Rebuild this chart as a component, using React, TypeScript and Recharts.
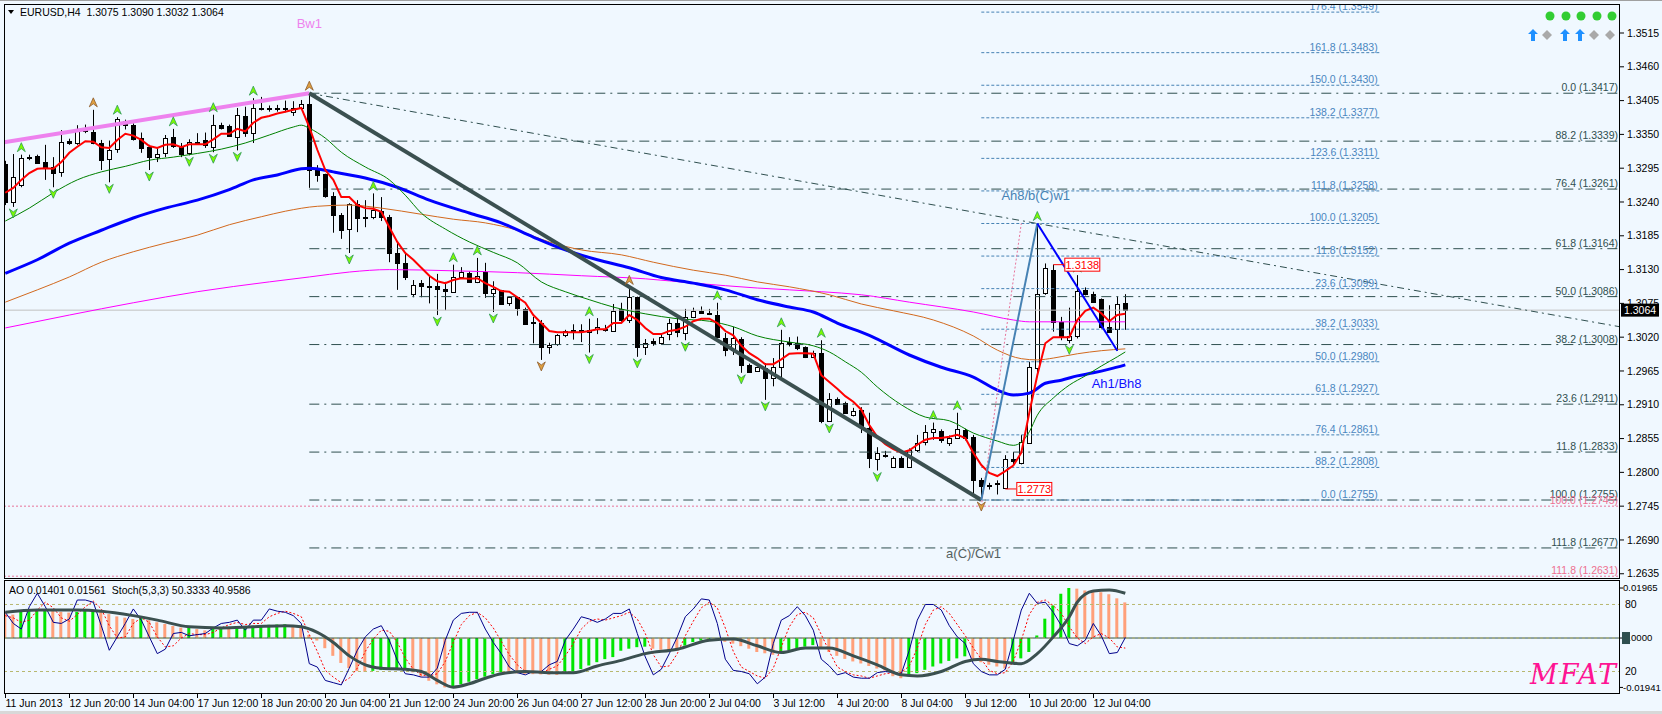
import React from 'react';
import { ComposedChart, Bar, Line, Scatter, XAxis, YAxis, ReferenceLine, Cell } from 'recharts';

// ---------- price bars (H4, 11 Jun 2013 12:00 .. 12 Jul 2013 20:00) ----------
const BAR_OPEN = [
  1.3302, 1.3240, 1.3268, 1.3312, 1.3315, 1.3305, 1.3297, 1.3289, 1.3340, 1.3337,
  1.3355, 1.3354, 1.3336, 1.3309, 1.3326, 1.3372, 1.3365, 1.3344, 1.3329, 1.3313,
  1.3320, 1.3346, 1.3331, 1.3320, 1.3337, 1.3341, 1.3329, 1.3366, 1.3364, 1.3346,
  1.3380, 1.3352, 1.3392, 1.3393, 1.3392, 1.3393, 1.3387, 1.3393, 1.3400, 1.3292,
  1.3285, 1.3250, 1.3219, 1.3196, 1.3237, 1.3215, 1.3216, 1.3225, 1.3216, 1.3157,
  1.3140, 1.3090, 1.3108, 1.3103, 1.3104, 1.3098, 1.3094, 1.3118, 1.3125, 1.3110,
  1.3126, 1.3091, 1.3097, 1.3075, 1.3085, 1.3066, 1.3044, 1.3043, 1.3004, 1.3009,
  1.3023, 1.3030, 1.3031, 1.3028, 1.3032, 1.3034, 1.3030, 1.3066, 1.3048, 1.3086,
  1.3004, 1.3014, 1.3011, 1.3025, 1.3043, 1.3027, 1.3053, 1.3063, 1.3060, 1.3056,
  1.3019, 1.3000, 1.3017, 1.2975, 1.2965, 1.2970, 1.2954, 1.2972, 1.3012, 1.3010,
  1.3004, 1.2988, 1.2995, 1.2885, 1.2919, 1.2913, 1.2894, 1.2901, 1.2872, 1.2822,
  1.2829, 1.2809, 1.2824, 1.2809, 1.2837, 1.2849, 1.2866, 1.2867, 1.2848, 1.2857,
  1.2869, 1.2858, 1.2788, 1.2779, 1.2781, 1.2774, 1.2822, 1.2815, 1.2849, 1.2970,
  1.3092, 1.3130, 1.3045, 1.3015, 1.3021, 1.3097, 1.3091, 1.3082, 1.3037, 1.3034,
  1.3075,
];
const BAR_HIGH = [
  1.3307, 1.3318, 1.3317, 1.3317, 1.3317, 1.3333, 1.3313, 1.3357, 1.3343, 1.3365,
  1.3366, 1.3390, 1.3341, 1.3340, 1.3378, 1.3374, 1.3368, 1.3353, 1.3333, 1.3329,
  1.3349, 1.3359, 1.3336, 1.3342, 1.3352, 1.3353, 1.3382, 1.3369, 1.3366, 1.3393,
  1.3395, 1.3409, 1.3411, 1.3397, 1.3398, 1.3405, 1.3404, 1.3406, 1.3417, 1.3300,
  1.3286, 1.3256, 1.3222, 1.3238, 1.3243, 1.3243, 1.3254, 1.3248, 1.3219, 1.3175,
  1.3157, 1.3113, 1.3113, 1.3121, 1.3123, 1.3110, 1.3138, 1.3134, 1.3127, 1.3149,
  1.3141, 1.3111, 1.3097, 1.3086, 1.3085, 1.3068, 1.3053, 1.3048, 1.3011, 1.3025,
  1.3032, 1.3041, 1.3041, 1.3050, 1.3051, 1.3040, 1.3074, 1.3076, 1.3101, 1.3086,
  1.3017, 1.3018, 1.3025, 1.3050, 1.3052, 1.3066, 1.3068, 1.3070, 1.3066, 1.3076,
  1.3027, 1.3037, 1.3020, 1.2977, 1.2972, 1.2978, 1.2986, 1.3032, 1.3020, 1.3021,
  1.3005, 1.2998, 1.3015, 1.2929, 1.2922, 1.2915, 1.2905, 1.2906, 1.2897, 1.2841,
  1.2835, 1.2826, 1.2826, 1.2839, 1.2861, 1.2877, 1.2881, 1.2870, 1.2860, 1.2897,
  1.2871, 1.2861, 1.2791, 1.2783, 1.2787, 1.2828, 1.2833, 1.2861, 1.2980, 1.3205,
  1.3140, 1.3138, 1.3053, 1.3068, 1.3121, 1.3101, 1.3094, 1.3083, 1.3072, 1.3086,
  1.3090,
];
const BAR_LOW = [
  1.3235, 1.3232, 1.3264, 1.3308, 1.3302, 1.3276, 1.3264, 1.3281, 1.3333, 1.3333,
  1.3352, 1.3334, 1.3292, 1.3272, 1.3320, 1.3358, 1.3340, 1.3320, 1.3292, 1.3305,
  1.3313, 1.3328, 1.3313, 1.3316, 1.3333, 1.3328, 1.3321, 1.3358, 1.3346, 1.3324,
  1.3346, 1.3336, 1.3389, 1.3387, 1.3387, 1.3386, 1.3380, 1.3392, 1.3263, 1.3273,
  1.3247, 1.3190, 1.3180, 1.3157, 1.3191, 1.3199, 1.3212, 1.3209, 1.3142, 1.3097,
  1.3113, 1.3085, 1.3085, 1.3075, 1.3056, 1.3064, 1.3092, 1.3117, 1.3109, 1.3108,
  1.3084, 1.3061, 1.3074, 1.3071, 1.3055, 1.3040, 1.3010, 1.2983, 1.2993, 1.3006,
  1.3020, 1.3016, 1.3012, 1.2995, 1.3025, 1.3029, 1.3030, 1.3045, 1.3043, 1.2988,
  1.2991, 1.3006, 1.3008, 1.3015, 1.3020, 1.3015, 1.3051, 1.3058, 1.3056, 1.3019,
  1.2989, 1.2991, 1.2962, 1.2963, 1.2964, 1.2918, 1.2940, 1.2954, 1.3005, 1.2999,
  1.2986, 1.2986, 1.2880, 1.2882, 1.2910, 1.2895, 1.2891, 1.2864, 1.2807, 1.2803,
  1.2824, 1.2808, 1.2808, 1.2808, 1.2833, 1.2844, 1.2853, 1.2848, 1.2843, 1.2856,
  1.2852, 1.2764, 1.2755, 1.2772, 1.2764, 1.2773, 1.2813, 1.2813, 1.2847, 1.2955,
  1.3089, 1.3029, 1.3015, 1.3010, 1.3018, 1.3088, 1.3076, 1.3034, 1.3027, 1.2998,
  1.3032,
];
const BAR_CLOSE = [
  1.3240, 1.3281, 1.3312, 1.3314, 1.3304, 1.3295, 1.3287, 1.3338, 1.3337, 1.3359,
  1.3358, 1.3336, 1.3308, 1.3324, 1.3375, 1.3365, 1.3342, 1.3328, 1.3312, 1.3318,
  1.3344, 1.3331, 1.3318, 1.3338, 1.3338, 1.3333, 1.3365, 1.3361, 1.3348, 1.3382,
  1.3352, 1.3393, 1.3393, 1.3392, 1.3393, 1.3392, 1.3393, 1.3400, 1.3292, 1.3284,
  1.3250, 1.3219, 1.3195, 1.3237, 1.3214, 1.3216, 1.3227, 1.3216, 1.3157, 1.3141,
  1.3118, 1.3105, 1.3103, 1.3103, 1.3099, 1.3095, 1.3118, 1.3126, 1.3110, 1.3120,
  1.3092, 1.3098, 1.3075, 1.3085, 1.3067, 1.3042, 1.3043, 1.3004, 1.3008, 1.3024,
  1.3030, 1.3031, 1.3030, 1.3032, 1.3036, 1.3034, 1.3063, 1.3048, 1.3086, 1.3004,
  1.3010, 1.3011, 1.3021, 1.3043, 1.3028, 1.3053, 1.3063, 1.3060, 1.3059, 1.3020,
  1.2999, 1.3019, 1.2975, 1.2964, 1.2971, 1.2954, 1.2972, 1.3011, 1.3008, 1.3002,
  1.2988, 1.2995, 1.2885, 1.2920, 1.2911, 1.2896, 1.2900, 1.2874, 1.2823, 1.2832,
  1.2828, 1.2824, 1.2809, 1.2837, 1.2848, 1.2866, 1.2871, 1.2852, 1.2856, 1.2871,
  1.2856, 1.2788, 1.2778, 1.2778, 1.2782, 1.2822, 1.2818, 1.2849, 1.2972, 1.3090,
  1.3133, 1.3045, 1.3020, 1.3022, 1.3095, 1.3091, 1.3078, 1.3037, 1.3029, 1.3074,
  1.3064,
];

// ---------- moving averages ----------
const MA_RED = [
  1.3255, 1.3263, 1.3276, 1.3287, 1.3294, 1.3295, 1.3294, 1.3305, 1.3320, 1.3330,
  1.3339, 1.3338, 1.3329, 1.3328, 1.3341, 1.3351, 1.3348, 1.3341, 1.3331, 1.3328,
  1.3333, 1.3334, 1.3329, 1.3334, 1.3334, 1.3334, 1.3342, 1.3351, 1.3351, 1.3359,
  1.3355, 1.3369, 1.3377, 1.3380, 1.3384, 1.3387, 1.3390, 1.3393, 1.3362, 1.3325,
  1.3292, 1.3276, 1.3248, 1.3248, 1.3235, 1.3230, 1.3229, 1.3224, 1.3199, 1.3175,
  1.3157, 1.3146, 1.3133, 1.3120, 1.3111, 1.3108, 1.3113, 1.3116, 1.3115, 1.3116,
  1.3108, 1.3102, 1.3095, 1.3094, 1.3085, 1.3076, 1.3056, 1.3043, 1.3030, 1.3028,
  1.3028, 1.3028, 1.3028, 1.3030, 1.3033, 1.3033, 1.3043, 1.3043, 1.3056, 1.3048,
  1.3035, 1.3025, 1.3025, 1.3030, 1.3032, 1.3037, 1.3046, 1.3050, 1.3050, 1.3043,
  1.3030, 1.3023, 1.3006, 1.2994, 1.2986, 1.2976, 1.2976, 1.2984, 1.2993, 1.2994,
  1.2994, 1.2993, 1.2958, 1.2947, 1.2936, 1.2924, 1.2915, 1.2902, 1.2877, 1.2858,
  1.2846, 1.2838, 1.2832, 1.2836, 1.2845, 1.2853, 1.2856, 1.2856, 1.2858, 1.2861,
  1.2856, 1.2832, 1.2812, 1.2799, 1.2794, 1.2802, 1.2811, 1.2832, 1.2897, 1.2958,
  1.3010, 1.3020, 1.3020, 1.3020, 1.3048, 1.3063, 1.3068, 1.3059, 1.3046, 1.3056,
  1.3058,
];
// [bar, value] readings of the slower averages
const MA_GREEN = [
  [0, 1.3209], [3, 1.3230], [6, 1.3255], [9, 1.3276], [12, 1.3289], [15, 1.3298], [18, 1.3308],
  [21, 1.3313], [24, 1.3319], [27, 1.3326], [30, 1.3336], [33, 1.3349], [36, 1.3362], [37, 1.3365],
  [38, 1.3360], [40, 1.3344], [42, 1.3321], [45, 1.3297], [48, 1.3276], [50, 1.3251], [52, 1.3222],
  [55, 1.3196], [58, 1.3175], [61, 1.3158], [64, 1.3141], [67, 1.3110], [70, 1.3094], [73, 1.3081],
  [76, 1.3069], [80, 1.3058], [84, 1.3050], [88, 1.3046], [91, 1.3037], [94, 1.3022], [98, 1.3012],
  [101, 1.3006], [103, 1.2996], [105, 1.2980], [107, 1.2963], [109, 1.2939], [112, 1.2910],
  [115, 1.2890], [118, 1.2884], [121, 1.2864], [124, 1.2851], [126, 1.2844], [127, 1.2849],
  [128, 1.2866], [129, 1.2893], [131, 1.2921], [133, 1.2942], [135, 1.2957], [137, 1.2973],
  [139, 1.2988], [140, 1.2996],
];
const MA_BLUE = [
  [0, 1.3124], [4, 1.3146], [8, 1.3173], [12, 1.3194], [16, 1.3214], [20, 1.3230], [24, 1.3243],
  [28, 1.3260], [31, 1.3276], [34, 1.3284], [37, 1.3294], [38, 1.3295], [41, 1.3289], [45, 1.3279],
  [49, 1.3264], [53, 1.3243], [58, 1.3222], [62, 1.3206], [66, 1.3183], [70, 1.3162], [74, 1.3146],
  [78, 1.3133], [82, 1.3117], [86, 1.3108], [90, 1.3097], [94, 1.3081], [98, 1.3069], [101, 1.3061],
  [104, 1.3043], [108, 1.3023], [113, 1.2991], [117, 1.2971], [121, 1.2955], [124, 1.2934],
  [126, 1.2926], [128, 1.2929], [130, 1.2945], [132, 1.2950], [134, 1.2957], [136, 1.2962],
  [138, 1.2968], [140, 1.2975],
];
const MA_ORANGE = [
  [0, 1.3077], [4, 1.3097], [8, 1.3118], [12, 1.3142], [16, 1.3159], [20, 1.3173], [24, 1.3186],
  [28, 1.3203], [32, 1.3216], [35, 1.3225], [39, 1.3233], [43, 1.3235], [47, 1.3230], [52, 1.3220],
  [56, 1.3212], [60, 1.3206], [64, 1.3194], [68, 1.3175], [72, 1.3162], [77, 1.3154], [81, 1.3142],
  [86, 1.3129], [90, 1.3121], [94, 1.3110], [98, 1.3102], [103, 1.3089], [107, 1.3074], [111, 1.3063],
  [116, 1.3048], [121, 1.3022], [124, 1.2999], [127, 1.2985], [129, 1.2983], [131, 1.2986],
  [134, 1.2993], [137, 1.2998], [140, 1.3001],
];
const MA_MAGENTA = [
  [0, 1.3035], [8, 1.3056], [16, 1.3076], [24, 1.3094], [33, 1.3110], [38, 1.3118], [43, 1.3126],
  [48, 1.3130], [56, 1.3128], [64, 1.3125], [72, 1.3120], [80, 1.3115], [86, 1.3108], [94, 1.3100],
  [102, 1.3094], [107, 1.3089], [113, 1.3077], [121, 1.3061], [126, 1.3048], [128, 1.3045], [140, 1.3045],
];

// ---------- wave lines [bar, price] ----------
const LINE_BW1 = [[-0.16, 1.3337], [38, 1.3417]];
const LINE_WAVE_C = [[38, 1.3417], [122, 1.2755]];
const LINE_UP_LEG = [[122, 1.2755], [129, 1.3205]];
const LINE_DOWN_LEG = [[129, 1.3205], [139, 1.2998]];
const LINE_PINK_LEG = [[122, 1.2745], [127, 1.3205]];
const LINE_RAY = [[38, 1.3417], [129, 1.3205], [201.8, 1.3037]];
const CURRENT_PRICE = 1.3064;

// ---------- fibonacci levels [label, price] ----------
const FIB_MAIN = [
  ['0.0', 1.3417], ['88.2', 1.3339], ['76.4', 1.3261], ['61.8', 1.3164], ['50.0', 1.3086],
  ['38.2', 1.3008], ['23.6', 1.2911], ['11.8', 1.2833], ['100.0', 1.2755], ['111.8', 1.2677],
];
const FIB_MAIN_FROM = 38;
const FIB_EXT = [
  ['176.4', 1.3549], ['161.8', 1.3483], ['150.0', 1.3430], ['138.2', 1.3377], ['123.6', 1.3311],
  ['111.8', 1.3258], ['100.0', 1.3205], ['11.8', 1.3152], ['23.6', 1.3099], ['38.2', 1.3033],
  ['50.0', 1.2980], ['61.8', 1.2927], ['76.4', 1.2861], ['88.2', 1.2808], ['0.0', 1.2755],
];
const FIB_EXT_SPAN = [122, 171.8];
const FIB_PINK = [['100.0', 1.2745], ['111.8', 1.2631]];

// ---------- markers and notes ----------
const UP_MARKS = [2, 14, 21, 26, 31, 46, 56, 59, 73, 89, 97, 102, 116, 119, 129, 134];
const UP_MARKS_MAJOR = [11, 38, 78];
const DOWN_MARKS = [1, 6, 13, 18, 23, 26, 29, 43, 54, 61, 73, 79, 85, 92, 95, 103, 109, 133];
const DOWN_MARKS_MAJOR = [67, 122];
const NOTES = [
  { t: 'Bw1', i: 38, v: 1.3523 },
  { t: 'Ah8/b(C)w1', i: 128.8, v: 1.3243 },
  { t: 'Ah1/Bh8', i: 135.8, v: 1.2937 },
  { t: 'a(C)/Cw1', i: 117.6, v: 1.2661 },
];
const PRICE_TAGS = [{ i: 131, v: 1.3138 }, { i: 125, v: 1.2773 }];

// ---------- oscillators ----------
const AO = [
  0.0105, 0.0092, 0.0104, 0.0108, 0.0111, 0.0114, 0.0108, 0.0103, 0.0100, 0.0103,
  0.0107, 0.0110, 0.0102, 0.0094, 0.0085, 0.0080, 0.0075, 0.0080, 0.0070, 0.0062,
  0.0055, 0.0047, 0.0041, 0.0043, 0.0035, 0.0030, 0.0036, 0.0040, 0.0036, 0.0045,
  0.0046, 0.0048, 0.0050, 0.0052, 0.0053, 0.0054, 0.0049, 0.0041, 0.0012, -0.0010,
  -0.0040, -0.0070, -0.0098, -0.0118, -0.0130, -0.0133, -0.0129, -0.0126, -0.0124, -0.0122,
  -0.0120, -0.0135, -0.0152, -0.0168, -0.0182, -0.01941, -0.0190, -0.0182, -0.0172, -0.0162,
  -0.0152, -0.0142, -0.0135, -0.0137, -0.0139, -0.0141, -0.0142, -0.0143, -0.0144, -0.0145,
  -0.0140, -0.0132, -0.0122, -0.0108, -0.0095, -0.0083, -0.0075, -0.0050, -0.0042, -0.0036,
  -0.0034, -0.0042, -0.0046, -0.0048, -0.0049, -0.0030, -0.0016, -0.0010, -0.0006, -0.0009,
  -0.0015, -0.0022, -0.0032, -0.0042, -0.0055, -0.0060, -0.0066, -0.0060, -0.0048, -0.0040,
  -0.0034, -0.0028, -0.0040, -0.0055, -0.0070, -0.0082, -0.0092, -0.0100, -0.0110, -0.0120,
  -0.0128, -0.0150, -0.0158, -0.0150, -0.0138, -0.0125, -0.0112, -0.0100, -0.0090, -0.0080,
  -0.0072, -0.0088, -0.0095, -0.0105, -0.0112, -0.0120, -0.0101, -0.0080, -0.0055, 0.0010,
  0.0076, 0.0128, 0.0174, 0.01965, 0.0194, 0.0187, 0.0185, 0.0180, 0.0172, 0.0156,
  0.0140,
];
const STOCH_MAIN = [
  73, 63, 58, 78, 90, 78, 64, 63, 67, 84,
  84, 82, 61, 39, 51, 63, 76, 66, 51, 36,
  40, 54, 55, 52, 53, 54, 59, 63, 64, 66,
  57, 66, 66, 76, 74, 73, 70, 63, 27, 24,
  12, 10, 8, 23, 39, 51, 58, 61, 48, 30,
  18, 17, 15, 15, 23, 48, 66, 72, 73, 73,
  58, 46, 36, 24, 19, 17, 20, 20, 26, 29,
  48, 58, 69, 67, 64, 67, 72, 72, 76, 54,
  33, 17, 22, 36, 51, 69, 76, 85, 84, 63,
  31, 21, 20, 18, 9, 15, 45, 66, 70, 78,
  70, 57, 31, 25, 17, 19, 15, 14, 14, 19,
  20, 19, 18, 39, 66, 80, 80, 75, 61, 51,
  45, 27, 20, 17, 17, 22, 48, 75, 90, 81,
  82, 73, 61, 45, 43, 48, 63, 52, 36, 37,
  50.33,
];
const STOCH_SIGNAL = [
  70, 68, 64, 66, 75, 82, 77, 68, 65, 71,
  78, 83, 76, 61, 50, 51, 63, 68, 64, 51,
  42, 43, 50, 54, 53, 53, 55, 59, 62, 64,
  62, 63, 63, 69, 72, 74, 72, 69, 53, 38,
  21, 15, 10, 14, 23, 38, 49, 57, 56, 46,
  32, 22, 17, 16, 18, 29, 46, 62, 70, 73,
  68, 59, 47, 35, 26, 20, 19, 19, 22, 25,
  34, 45, 58, 65, 67, 66, 68, 70, 73, 67,
  54, 35, 24, 25, 36, 52, 65, 77, 82, 77,
  59, 38, 24, 20, 16, 14, 23, 42, 60, 71,
  73, 68, 53, 38, 24, 20, 17, 16, 14, 16,
  18, 19, 19, 25, 41, 62, 75, 78, 72, 62,
  52, 41, 31, 21, 18, 19, 29, 48, 71, 82,
  84, 79, 72, 60, 50, 45, 51, 54, 50, 42,
  40.96,
];
const OSC_SLOW = [
  [0, 73], [4, 75], [9, 75], [12, 74], [16, 70], [19, 66], [23, 60], [27, 59], [31, 60], [35, 61],
  [37, 60], [39, 55], [41, 46], [43, 34], [45, 26], [47, 23], [50, 22], [52, 20], [54, 12], [56, 6],
  [58, 9], [60, 14], [62, 18], [65, 20], [68, 19], [71, 19], [74, 25], [77, 30], [80, 36], [84, 40],
  [88, 48], [91, 49], [94, 43], [97, 37], [100, 41], [103, 41], [106, 34], [109, 26], [112, 17],
  [114, 16], [117, 20], [120, 29], [122, 31], [124, 29], [127, 27], [129, 36], [131, 51], [133, 69],
  [134, 82], [136, 92], [138, 93], [140, 90],
];

// ---------- axes ----------
const PRICE_TICKS = [
  1.3515, 1.3460, 1.3405, 1.3350, 1.3295, 1.3240, 1.3185, 1.3130, 1.3075,
  1.3020, 1.2965, 1.2910, 1.2855, 1.2800, 1.2745, 1.2690, 1.2635,
];
const AO_TICKS = [0.01965, 0, -0.01941];
const TIME_TICKS = [0, 8, 16, 24, 32, 40, 48, 56, 64, 72, 80, 88, 96, 104, 112, 120, 128, 136];
const TIME_LABELS = [
  '11 Jun 2013', '12 Jun 20:00', '14 Jun 04:00', '17 Jun 12:00', '18 Jun 20:00', '20 Jun 04:00',
  '21 Jun 12:00', '24 Jun 20:00', '26 Jun 04:00', '27 Jun 12:00', '28 Jun 20:00', '2 Jul 04:00',
  '3 Jul 12:00', '4 Jul 20:00', '8 Jul 04:00', '9 Jul 12:00', '10 Jul 20:00', '12 Jul 04:00',
];

const X_DOMAIN: [number, number] = [-0.1625, 201.8375];
const PRICE_DOMAIN: [number, number] = [1.26281, 1.35622];
const AO_DOMAIN: [number, number] = [-0.022, 0.0228];
const STOCH_DOMAIN: [number, number] = [-0.13, 101.9];

const FONT = '"Liberation Sans", Arial, sans-serif';
const BG = '#f0f8ff';

const toPts = (pairs: number[][]) => pairs.map(([i, v]) => ({ i, v }));

const candleRows = BAR_OPEN.map((o, i) => ({
  i, o, h: BAR_HIGH[i], l: BAR_LOW[i], c: BAR_CLOSE[i],
  hl: [BAR_LOW[i], BAR_HIGH[i]], red: MA_RED[i],
}));
const oscRows = AO.map((ao, i) => ({ i, ao, sk: STOCH_MAIN[i], sd: STOCH_SIGNAL[i] }));

function Candle(props: any) {
  const { x, y, width, height, payload } = props;
  if (!payload || x == null) return <g />;
  const { o, h, l, c } = payload;
  const top = Math.min(y, y + height);
  const span = Math.abs(height);
  const k = h > l ? span / (h - l) : 0;
  const cx = Math.round(x + width / 2) + 0.5;
  const yo = top + (h - o) * k;
  const yc = top + (h - c) * k;
  const bTop = Math.round(Math.min(yo, yc)) + 0.5;
  const bH = Math.max(1, Math.round(Math.abs(yo - yc)));
  return (
    <g>
      <line x1={cx} x2={cx} y1={top} y2={top + span} stroke="#000" strokeWidth={1} />
      {c >= o
        ? <rect x={cx - 2} y={bTop} width={4} height={bH} fill="#fff" stroke="#000" strokeWidth={1} />
        : <rect x={cx - 2.5} y={bTop - 0.5} width={5} height={bH + 1} fill="#000" />}
    </g>
  );
}

function Mark({ cx, cy, dir, major }: any) {
  const fill = major ? '#e0a040' : '#7cfc00';
  const stroke = major ? '#8b5a2b' : '#2e9b57';
  const y0 = dir > 0 ? cy - 7 : cy + 6;
  const s = dir > 0 ? -1 : 1;
  const pts = `${cx},${y0 + s * 5} ${cx + 4},${y0 - s * 4} ${cx},${y0 - s} ${cx - 4},${y0 - s * 4}`;
  return <polygon points={pts} fill={fill} stroke={stroke} strokeWidth={0.8} />;
}

const NOTE_STYLE = [
  { fill: '#ee82ee', anchor: 'middle' },
  { fill: '#4682b4', anchor: 'middle' },
  { fill: '#1010ff', anchor: 'start' },
  { fill: '#556060', anchor: 'start' },
];

function PriceTick(p: any) {
  const v = p.payload.value;
  const y = p.y;
  if (v === CURRENT_PRICE) {
    return (
      <g>
        <rect x={1621} y={y - 6.5} width={38} height={13} fill="#000" />
        <text x={1624} y={y} dy="0.35em" fill="#fff" fontSize={10.5} fontFamily={FONT}>{v.toFixed(4)}</text>
      </g>
    );
  }
  return (
    <g>
      <line x1={1620} x2={1624} y1={y} y2={y} stroke="#000" />
      <text x={1627} y={y} dy="0.35em" fill="#000" fontSize={10.5} fontFamily={FONT}>{v.toFixed(4)}</text>
    </g>
  );
}

function AoTick(p: any) {
  const v = p.payload.value;
  const y = p.y;
  const txt = v === 0 ? '0.0000' : v.toFixed(5);
  return (
    <g>
      <line x1={1620} x2={1623} y1={y} y2={y} stroke="#000" />
      <text x={1623} y={y} dy="0.35em" fill="#000" fontSize={9.6} fontFamily={FONT}>{txt}</text>
      {v === 0 && <rect x={1622} y={y - 6} width={8} height={12} fill="#2f4f4f" />}
    </g>
  );
}

function TimeTick(p: any) {
  const idx = TIME_TICKS.indexOf(p.payload.value);
  const x = Math.round(p.x) + 0.5;
  return (
    <g>
      <line x1={x} x2={x} y1={114} y2={118} stroke="#000" />
      <text x={x} y={127} fill="#000" fontSize={10.5} fontFamily={FONT}>{TIME_LABELS[idx]}</text>
    </g>
  );
}

const fibLabel = (color: string) => (p: any) => (
  <text x={p.cx - 2} y={p.cy - 2} textAnchor="end" fontSize={10.5} fill={color} fontFamily={FONT}>
    {p.payload.t}
  </text>
);

export default function App() {
  const fibMainLabels = FIB_MAIN.map(([t, v]) => ({ i: X_DOMAIN[1], v: v as number, t: `${t} (${(v as number).toFixed(4)})` }));
  const fibExtLabels = FIB_EXT.map(([t, v]) => ({ i: FIB_EXT_SPAN[1], v: v as number, t: `${t} (${(v as number).toFixed(4)})` }));
  const fibPinkLabels = FIB_PINK.map(([t, v]) => ({ i: X_DOMAIN[1], v: v as number, t: `${t} (${(v as number).toFixed(4)})` }));
  const noteRows = NOTES.map((n, k) => ({ ...n, k }));

  return (
    <div style={{ position: 'fixed', left: 0, top: 0, width: 1662, height: 714, background: BG, fontFamily: FONT, overflow: 'hidden' }}>
      <div style={{ position: 'absolute', left: 0, top: 0 }}>
        <ComposedChart width={1662} height={580} data={candleRows} margin={{ top: 4, right: 0, bottom: 2, left: 4 }}>
          <XAxis dataKey="i" type="number" domain={X_DOMAIN} allowDataOverflow hide />
          <YAxis orientation="right" width={42} domain={PRICE_DOMAIN} allowDataOverflow ticks={[...PRICE_TICKS, CURRENT_PRICE]}
            interval={0} axisLine={false} tickLine={false} tick={<PriceTick />} />

          {FIB_PINK.map(([t, v]) => (
            <ReferenceLine key={'p' + t} ifOverflow="visible" segment={[{ x: X_DOMAIN[0], y: v }, { x: X_DOMAIN[1], y: v }]}
              stroke="#e8739a" strokeDasharray="2 2" strokeWidth={1} />
          ))}
          {FIB_MAIN.map(([t, v]) => (
            <ReferenceLine key={'m' + t} ifOverflow="visible" segment={[{ x: FIB_MAIN_FROM, y: v }, { x: X_DOMAIN[1], y: v }]}
              stroke="#2f4f4f" strokeDasharray="10 5 2 5" strokeWidth={1} />
          ))}
          {FIB_EXT.map(([t, v]) => (
            <ReferenceLine key={'e' + t} ifOverflow="visible" segment={[{ x: FIB_EXT_SPAN[0], y: v }, { x: FIB_EXT_SPAN[1], y: v }]}
              stroke="#4682b4" strokeDasharray="3 2" strokeWidth={1} />
          ))}
          <ReferenceLine y={CURRENT_PRICE} stroke="#c0c0c0" strokeWidth={1} />

          <Line data={toPts(MA_MAGENTA)} dataKey="v" type="monotone" stroke="#ff00ff" strokeWidth={1} dot={false} isAnimationActive={false} />
          <Line data={toPts(MA_ORANGE)} dataKey="v" type="monotone" stroke="#d2691e" strokeWidth={1} dot={false} isAnimationActive={false} />
          <Line data={toPts(MA_BLUE)} dataKey="v" type="monotone" stroke="#0000ff" strokeWidth={3} dot={false} isAnimationActive={false} />
          <Line data={toPts(MA_GREEN)} dataKey="v" type="monotone" stroke="#008000" strokeWidth={1} dot={false} isAnimationActive={false} />

          <Bar dataKey="hl" barSize={5} isAnimationActive={false} shape={(p: any) => <Candle {...p} />} />

          <Line dataKey="red" type="linear" stroke="#ff0000" strokeWidth={2} dot={false} isAnimationActive={false} />

          <Line data={toPts(LINE_RAY)} dataKey="v" type="linear" stroke="#2f4f4f" strokeWidth={1} strokeDasharray="7 4 2 4" dot={false} isAnimationActive={false} />
          <Line data={toPts(LINE_BW1)} dataKey="v" type="linear" stroke="#ee82ee" strokeWidth={4} dot={false} isAnimationActive={false} />
          <Line data={toPts(LINE_WAVE_C)} dataKey="v" type="linear" stroke="#3b5050" strokeWidth={4} dot={false} isAnimationActive={false} />
          <Line data={toPts(LINE_PINK_LEG)} dataKey="v" type="linear" stroke="#e8739a" strokeWidth={1} strokeDasharray="2 2" dot={false} isAnimationActive={false} />
          <Line data={toPts(LINE_UP_LEG)} dataKey="v" type="linear" stroke="#4682b4" strokeWidth={2} dot={false} isAnimationActive={false} />
          <Line data={toPts(LINE_DOWN_LEG)} dataKey="v" type="linear" stroke="#0000ff" strokeWidth={2} dot={false} isAnimationActive={false} />

          <Scatter data={UP_MARKS.map((i) => ({ i, v: BAR_HIGH[i] }))} dataKey="v" isAnimationActive={false}
            shape={(p: any) => <Mark cx={p.cx} cy={p.cy} dir={1} />} />
          <Scatter data={UP_MARKS_MAJOR.map((i) => ({ i, v: BAR_HIGH[i] }))} dataKey="v" isAnimationActive={false}
            shape={(p: any) => <Mark cx={p.cx} cy={p.cy} dir={1} major />} />
          <Scatter data={DOWN_MARKS.map((i) => ({ i, v: BAR_LOW[i] }))} dataKey="v" isAnimationActive={false}
            shape={(p: any) => <Mark cx={p.cx} cy={p.cy} dir={-1} />} />
          <Scatter data={DOWN_MARKS_MAJOR.map((i) => ({ i, v: BAR_LOW[i] }))} dataKey="v" isAnimationActive={false}
            shape={(p: any) => <Mark cx={p.cx} cy={p.cy} dir={-1} major />} />

          <Scatter data={fibMainLabels} dataKey="v" isAnimationActive={false} shape={fibLabel('#2f4f4f')} />
          <Scatter data={fibExtLabels} dataKey="v" isAnimationActive={false} shape={fibLabel('#4a86c0')} />
          <Scatter data={fibPinkLabels} dataKey="v" isAnimationActive={false} shape={fibLabel('#ee7090')} />

          <Scatter data={noteRows} dataKey="v" isAnimationActive={false}
            shape={(p: any) => (
              <text x={p.cx} y={p.cy} textAnchor={NOTE_STYLE[p.payload.k].anchor as any} fill={NOTE_STYLE[p.payload.k].fill}
                fontSize={13} fontFamily={FONT}>{p.payload.t}</text>
            )} />
          <Scatter data={PRICE_TAGS} dataKey="v" isAnimationActive={false}
            shape={(p: any) => (
              <g>
                <line x1={p.cx} x2={p.cx + 11} y1={p.cy} y2={p.cy} stroke="#ff0000" />
                <rect x={p.cx + 11.5} y={p.cy - 6.5} width={35} height={13} fill="#fff" stroke="#ff0000" />
                <text x={p.cx + 29} y={p.cy} dy="0.36em" textAnchor="middle" fill="#ff0000" fontSize={11} fontFamily={FONT}>
                  {p.payload.v.toFixed(4)}
                </text>
              </g>
            )} />
        </ComposedChart>
      </div>

      <div style={{ position: 'absolute', left: 0, top: 580 }}>
        <ComposedChart width={1662} height={134} data={oscRows} margin={{ top: 0, right: 0, bottom: 0, left: 4 }}>
          <XAxis dataKey="i" type="number" domain={X_DOMAIN} allowDataOverflow ticks={TIME_TICKS} interval={0}
            height={20} axisLine={false} tickLine={false} tick={<TimeTick />} />
          <YAxis yAxisId="ao" orientation="right" width={42} domain={AO_DOMAIN} allowDataOverflow ticks={AO_TICKS}
            interval={0} axisLine={false} tickLine={false} tick={<AoTick />} />
          <YAxis yAxisId="st" hide domain={STOCH_DOMAIN} allowDataOverflow />

          <ReferenceLine yAxisId="st" y={80} stroke="#b8b870" strokeDasharray="3 3"
            label={{ value: '80', position: 'right', fill: '#000', fontSize: 10.5, fontFamily: FONT }} />
          <ReferenceLine yAxisId="st" y={20} stroke="#b8b870" strokeDasharray="3 3"
            label={{ value: '20', position: 'right', fill: '#000', fontSize: 10.5, fontFamily: FONT }} />

          <Bar yAxisId="ao" dataKey="ao" barSize={3} isAnimationActive={false}>
            {oscRows.map((r, k) => (
              <Cell key={k} fill={k > 0 && r.ao > AO[k - 1] ? '#00e600' : '#ffa07a'} />
            ))}
          </Bar>
          <ReferenceLine yAxisId="ao" y={0} stroke="#2f4f4f" strokeWidth={1} />
          <ReferenceLine yAxisId="st" y={50} stroke="#b8b870" strokeDasharray="3 3" />

          <Line yAxisId="st" dataKey="sd" type="linear" stroke="#ff0000" strokeWidth={1} strokeDasharray="2 2" dot={false} isAnimationActive={false} />
          <Line yAxisId="st" dataKey="sk" type="linear" stroke="#00008b" strokeWidth={1} dot={false} isAnimationActive={false} />
          <Line yAxisId="st" data={toPts(OSC_SLOW)} dataKey="v" type="monotone" stroke="#3b5050" strokeWidth={3} dot={false} isAnimationActive={false} />
        </ComposedChart>
      </div>

      <svg width={1662} height={714} style={{ position: 'absolute', left: 0, top: 0, pointerEvents: 'none' }}>
        <line x1={0} x2={1662} y1={0.5} y2={0.5} stroke="#a0a0a0" />
        <rect x={4.5} y={4.5} width={1615} height={574} fill="none" stroke="#000" />
        <rect x={4.5} y={580.5} width={1615} height={113} fill="none" stroke="#000" />
        <rect x={0} y={711} width={1662} height={3} fill="#d8d8d8" />

        <polygon points="8,10 14,10 11,14" fill="#000" />
        <text x={20} y={16} fontSize={10.5} fill="#000" fontFamily={FONT} style={{ whiteSpace: 'pre' }}>
          {'EURUSD,H4  1.3075 1.3090 1.3032 1.3064'}
        </text>
        <text x={9} y={594} fontSize={10.5} fill="#000" fontFamily={FONT} style={{ whiteSpace: 'pre' }}>
          {'AO 0.01401 0.01561  Stoch(5,3,3) 50.3333 40.9586'}
        </text>

        {[1550, 1566, 1581, 1597, 1612].map((x) => (
          <circle key={x} cx={x} cy={16} r={4.5} fill="#32cd32" />
        ))}
        {[1533, 1565, 1580].map((x) => (
          <polygon key={x} points={`${x},29 ${x + 5},34 ${x + 2},34 ${x + 2},41 ${x - 2},41 ${x - 2},34 ${x - 5},34`} fill="#1e90ff" />
        ))}
        {[1547, 1594, 1610].map((x) => (
          <polygon key={x} points={`${x},30 ${x + 5},35 ${x},40 ${x - 5},35`} fill="#a9a9a9" />
        ))}

        <text x={1530} y={684} fontSize={27} fill="#ff1493" fontStyle="italic" fontFamily='"DejaVu Serif", serif' letterSpacing={2}>
          MFAT
        </text>
      </svg>
    </div>
  );
}
